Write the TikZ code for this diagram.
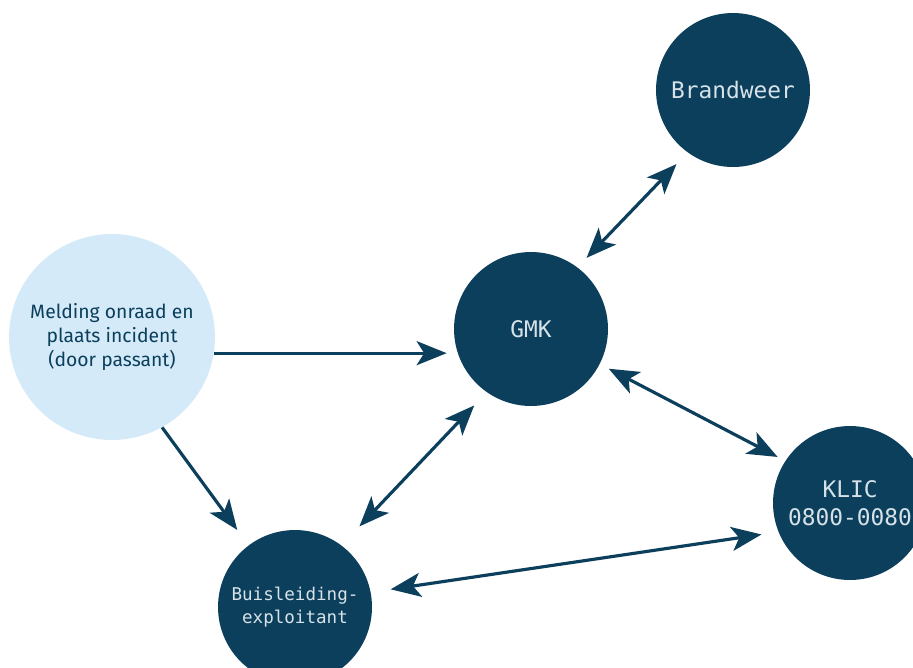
\documentclass[tikz,border=0pt]{standalone}
\usepackage{fontspec}
\setmainfont{Fira Sans}
\setmonofont{DejaVu Sans Mono}
\usetikzlibrary{arrows.meta}

\begin{document}
\begin{tikzpicture}[x=0.02cm, y=-0.02cm, >={Stealth[length=0.6cm,width=0.48cm,inset=0.15cm]},
	bol/.style={circle, fill=donker, inner sep=0pt, minimum size=3.08cm, text=licht, align=center, font=\ttfamily\fontsize{13}{16}\selectfont},
	pijl/.style={draw=donker, line width=1.8pt}]
			\definecolor{donker}{RGB}{11,63,92}
			\definecolor{licht}{RGB}{214,226,232}
			\definecolor{lichtblauw}{RGB}{212,234,248}

				\clip (0,0) rectangle (913,667);
				\fill[white] (0,0) rectangle (913,667);

				\node[circle, fill=lichtblauw, inner sep=0pt, minimum size=4.12cm, text=donker, align=center, font=\fontsize{11}{13.8}\selectfont] (melding) at (112,337) {Melding onraad en\\plaats incident\\(door passant)};
				\node[bol] (brand) at (733,90) {Brandweer};
				\node[bol] (gmk) at (531,329) {GMK};
				\node[bol] (klic) at (850,503) {KLIC\\0800-0080};
				\node[bol, font=\ttfamily\fontsize{10}{13}\selectfont] (buis) at (295,607) {Buisleiding-\\exploitant};

				\draw[pijl,->,shorten >=0.14cm] (melding.-9) -- (melding.-9 -| gmk.west);
				\draw[pijl,->,shorten >=0.38cm] (melding.-61) -- (buis.127);
				\draw[pijl,<->,shorten <=0.26cm,shorten >=0.32cm] (gmk.53) -- (brand.234);
				\draw[pijl,<->,shorten <=0.2cm,shorten >=0.17cm] (gmk.-27) -- (klic.147);
				\draw[pijl,<->,shorten <=0.36cm,shorten >=0.52cm] (gmk.235) -- (buis.53);
				\draw[pijl,<->,shorten <=0.4cm,shorten >=0.34cm] (buis.11) -- (klic.202);
		\end{tikzpicture}
\end{document}
